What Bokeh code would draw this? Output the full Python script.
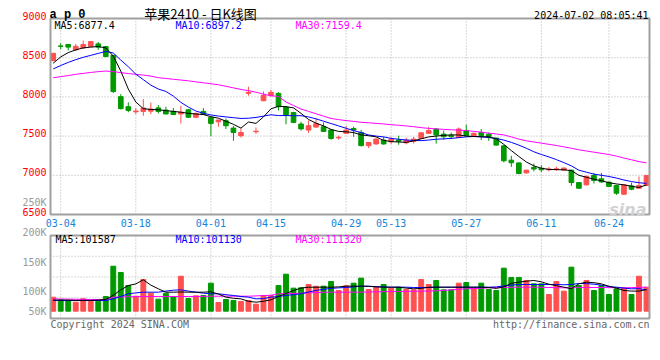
from bokeh.plotting import figure
from bokeh.models import Range1d, ColumnDataSource
from bokeh.core.properties import value
from bokeh.embed import file_html
from bokeh.resources import INLINE

# ---------------- data ----------------
dates = ["03-01", "03-04", "03-05", "03-06", "03-07", "03-08", "03-11", "03-12", "03-13", "03-14",
         "03-15", "03-18", "03-19", "03-20", "03-21", "03-22", "03-25", "03-26", "03-27", "03-28",
         "03-29", "04-01", "04-02", "04-03", "04-08", "04-09", "04-10", "04-11", "04-12", "04-15",
         "04-16", "04-17", "04-18", "04-19", "04-22", "04-23", "04-24", "04-25", "04-26", "04-29",
         "05-06", "05-07", "05-08", "05-09", "05-10", "05-13", "05-14", "05-15", "05-16", "05-17",
         "05-20", "05-21", "05-22", "05-23", "05-24", "05-27", "05-28", "05-29", "05-30", "05-31",
         "06-03", "06-04", "06-05", "06-06", "06-07", "06-11", "06-12", "06-13", "06-14", "06-17",
         "06-18", "06-19", "06-20", "06-21", "06-24", "06-25", "06-26", "06-27", "06-28", "07-01"]

opens = [8463, 8650, 8668, 8600, 8625, 8642, 8676, 8642, 8530, 8003,
         7875, 7810, 7815, 7818, 7860, 7832, 7815, 7782, 7836, 7740,
         7815, 7738, 7683, 7696, 7602, 7505, 8045, 7555, 7951, 8015,
         8045, 7870, 7800, 7654, 7577, 7615, 7619, 7577, 7478, 7535,
         7597, 7546, 7378, 7400, 7449, 7428, 7450, 7415, 7432, 7470,
         7535, 7590, 7525, 7512, 7482, 7570, 7505, 7546, 7525, 7474,
         7376, 7193, 7158, 7031, 7100, 7090, 7070, 7075, 7066, 7066,
         6907, 6878, 6998, 6955, 6912, 6870, 6758, 6865, 6835, 6870]
highs = [8560, 8685, 8672, 8676, 8719, 8712, 8700, 8650, 8535, 8035,
         7930, 7860, 7973, 7930, 7895, 7875, 7858, 7887, 7845, 7800,
         7858, 7745, 7710, 7725, 7630, 7600, 8130, 7610, 8070, 8090,
         8060, 7880, 7810, 7683, 7700, 7730, 7675, 7590, 7505, 7632,
         7620, 7580, 7425, 7470, 7490, 7490, 7505, 7480, 7490, 7545,
         7619, 7600, 7570, 7545, 7610, 7645, 7545, 7590, 7545, 7480,
         7380, 7248, 7165, 7070, 7150, 7130, 7105, 7110, 7100, 7070,
         6912, 7000, 7030, 7030, 6920, 6880, 6880, 6907, 6985, 7000]
lows = [8455, 8608, 8592, 8585, 8612, 8640, 8600, 8505, 8050, 7840,
        7805, 7780, 7760, 7780, 7790, 7780, 7772, 7660, 7730, 7735,
        7770, 7500, 7620, 7590, 7440, 7482, 8015, 7530, 7945, 8010,
        7826, 7650, 7670, 7570, 7540, 7605, 7555, 7455, 7455, 7530,
        7490, 7370, 7347, 7390, 7390, 7400, 7390, 7395, 7405, 7465,
        7530, 7405, 7455, 7462, 7478, 7495, 7495, 7449, 7440, 7380,
        7165, 7107, 7015, 7020, 7050, 7040, 7050, 7055, 7060, 6865,
        6830, 6870, 6895, 6905, 6850, 6750, 6755, 6810, 6830, 6865]
closes = [8556, 8645, 8635, 8646, 8668, 8706, 8635, 8515, 8068, 7850,
          7828, 7820, 7858, 7845, 7815, 7782, 7775, 7806, 7740, 7790,
          7775, 7662, 7704, 7632, 7546, 7546, 8058, 7562, 8020, 8058,
          7875, 7765, 7675, 7592, 7632, 7658, 7560, 7470, 7485, 7577,
          7578, 7378, 7418, 7462, 7400, 7460, 7435, 7449, 7462, 7542,
          7570, 7515, 7492, 7492, 7590, 7505, 7535, 7505, 7495, 7385,
          7185, 7160, 7022, 7066, 7080, 7070, 7080, 7082, 7092, 6908,
          6835, 6985, 6935, 6915, 6858, 6772, 6878, 6823, 6870, 6998]

ma5 = [8430, 8510, 8565, 8600, 8625, 8635, 8642, 8625, 8520, 8330,
       8100, 7935, 7850, 7840, 7835, 7825, 7815, 7805, 7790, 7782,
       7775, 7748, 7728, 7690, 7650, 7602, 7680, 7662, 7745, 7848,
       7880, 7875, 7860, 7790, 7712, 7665, 7630, 7585, 7560, 7555,
       7545, 7515, 7505, 7490, 7445, 7430, 7425, 7420, 7440, 7465,
       7490, 7500, 7510, 7515, 7515, 7500, 7495, 7492, 7490, 7465,
       7395, 7315, 7240, 7170, 7120, 7090, 7075, 7072, 7070, 7060,
       7000, 6975, 6950, 6930, 6905, 6890, 6878, 6860, 6845, 6877]
ma10 = [8357, 8400, 8440, 8475, 8505, 8530, 8555, 8580, 8560, 8470,
        8385, 8290, 8220, 8150, 8100, 8070, 8010, 7930, 7870, 7820,
        7790, 7770, 7755, 7745, 7735, 7725, 7728, 7738, 7755, 7772,
        7762, 7762, 7760, 7760, 7745, 7720, 7690, 7660, 7630, 7600,
        7570, 7545, 7515, 7500, 7490, 7470, 7460, 7450, 7445, 7442,
        7450, 7460, 7465, 7470, 7480, 7490, 7495, 7490, 7482, 7470,
        7449, 7420, 7385, 7345, 7300, 7265, 7235, 7200, 7162, 7120,
        7065, 7040, 7015, 7000, 6985, 6965, 6940, 6920, 6905, 6897]
ma30 = [8245, 8258, 8272, 8288, 8300, 8312, 8322, 8330, 8322, 8310,
        8298, 8288, 8278, 8265, 8245, 8235, 8225, 8215, 8205, 8192,
        8180, 8168, 8155, 8135, 8115, 8095, 8080, 8060, 8035, 8015,
        8005, 7935, 7890, 7845, 7815, 7785, 7755, 7725, 7710, 7698,
        7688, 7676, 7670, 7662, 7655, 7645, 7638, 7630, 7620, 7608,
        7598, 7592, 7586, 7580, 7577, 7570, 7560, 7550, 7538, 7527,
        7515, 7490, 7462, 7440, 7425, 7410, 7395, 7380, 7363, 7345,
        7325, 7310, 7295, 7280, 7265, 7245, 7220, 7198, 7175, 7159]

# volume, in thousands of lots
vol_k = [88.8, 84.4, 83.3, 80.5, 86.1, 81.7, 82.2, 90.0, 140.5, 130.0,
         108.3, 90.5, 118.3, 95.5, 85.5, 95.5, 90.0, 123.8, 86.7, 91.1,
         91.7, 112.2, 80.0, 85.0, 83.3, 81.7, 83.3, 77.2, 91.7, 91.7,
         108.3, 127.2, 103.9, 104.5, 110.0, 107.0, 107.2, 115.0, 100.0, 107.8,
         112.2, 120.6, 101.7, 105.5, 110.0, 103.9, 105.5, 101.7, 101.1, 118.3,
         110.0, 116.7, 101.1, 101.1, 112.2, 113.3, 103.9, 112.2, 101.7, 100.0,
         137.2, 121.7, 121.7, 116.7, 111.1, 111.1, 93.3, 115.0, 98.9, 138.9,
         108.3, 116.7, 100.0, 108.3, 93.3, 102.8, 103.9, 93.3, 123.8, 105.5]
vma5 = [84.0, 84.0, 84.0, 83.5, 83.5, 83.5, 84.0, 85.0, 92.0, 101.0,
        108.3, 111.0, 117.8, 109.0, 102.8, 97.2, 97.2, 97.5, 97.2, 97.2,
        97.2, 97.8, 94.0, 88.9, 87.0, 86.0, 82.0, 80.5, 82.0, 84.4,
        90.0, 95.0, 100.0, 104.0, 105.5, 105.5, 105.5, 105.5, 106.0, 107.2,
        107.2, 107.2, 107.0, 106.0, 105.5, 105.5, 105.5, 104.0, 102.8, 103.5,
        105.5, 105.5, 105.5, 105.5, 105.5, 105.5, 105.5, 105.5, 105.0, 103.5,
        106.0, 112.0, 113.9, 115.5, 116.7, 114.5, 110.5, 108.0, 105.5, 103.0,
        111.1, 113.9, 113.0, 111.1, 107.0, 104.0, 100.0, 99.0, 98.9, 101.6]
vma10 = [83.3, 83.3, 83.3, 83.3, 83.3, 83.3, 83.3, 83.3, 86.0, 90.0,
         94.5, 96.0, 97.2, 97.2, 97.2, 99.0, 100.5, 101.1, 99.0, 97.2,
         95.5, 94.5, 94.5, 93.0, 91.7, 90.0, 88.9, 86.0, 86.5, 88.9,
         90.0, 91.7, 93.0, 94.5, 97.5, 100.0, 102.0, 103.5, 104.4, 105.0,
         106.0, 107.2, 107.0, 106.5, 106.0, 105.5, 105.5, 105.5, 105.0, 105.0,
         105.0, 105.5, 105.5, 105.5, 105.5, 105.5, 105.5, 105.5, 105.5, 106.0,
         107.5, 109.0, 110.0, 110.0, 110.0, 110.0, 110.0, 110.0, 109.5, 110.0,
         111.7, 111.5, 110.5, 109.0, 106.5, 105.5, 104.0, 102.8, 103.0, 101.1]
vma30 = [86.0, 85.8, 85.6, 85.4, 85.2, 85.0, 85.0, 85.0, 88.9, 89.2,
         89.5, 89.8, 90.0, 90.0, 90.0, 90.0, 90.0, 90.0, 90.0, 90.0,
         90.2, 90.5, 90.5, 90.5, 90.5, 90.5, 90.5, 91.0, 91.5, 92.0,
         94.5, 94.8, 95.0, 95.5, 96.0, 96.5, 97.0, 97.2, 97.2, 97.2,
         97.2, 97.2, 97.5, 97.8, 98.0, 98.3, 98.3, 98.5, 98.7, 99.0,
         99.0, 99.5, 100.2, 101.0, 102.0, 102.8, 103.3, 103.8, 104.4, 105.0,
         105.2, 105.4, 105.5, 105.5, 105.5, 105.3, 105.0, 104.7, 104.4, 104.6,
         104.8, 105.0, 105.0, 105.0, 104.8, 104.6, 104.5, 104.8, 105.2, 105.5]

tick_labels = ["03-04", "03-18", "04-01", "04-15", "04-29", "05-13", "05-27", "06-11", "06-24"]
price_ticks = [6500, 7000, 7500, 8000, 8500, 9000]
price_grid = [7000, 7500, 8000, 8500]
vol_ticks = [250, 200, 150, 100, 50]
price_legend = ["MA5:6877.4", "MA10:6897.2", "MA30:7159.4"]
vol_legend = ["MA5:101587", "MA10:101130", "MA30:111320"]
code_text = "a p 0"
title_text = "苹果2410 - 日K线图"
stamp_text = "2024-07-02 08:05:41"
copyright_text = "Copyright 2024 SINA.COM"
url_text = "http://finance.sina.com.cn"

# ---------------- layout / styling constants ----------------
W, H = 652, 335
PANE_L, PANE_R = 50, 649          # pixel edges of both panes
PRICE_T, PRICE_B = 18, 214
VOL_T, VOL_B = 235, 318

LX, RX = -0.36, 79.4              # x data at the pane edges
P0, P1 = 6500, 9000               # price pane value range
VLO, VHI = 53.3, 191.7            # volume pane value range (thousands)
VBASE = 65.5                      # volume bars start here

RED = "#FF5050"
GREEN = "#009900"
GRID = "#B0B0B0"
BORDER = "#A0A0A0"
MONO = "DejaVu Sans Mono"
LEG_COLORS = ["#000000", "#0000FF", "#FF00FF"]

kx = (PANE_R - PANE_L) / (RX - LX)
kp = (PRICE_B - PRICE_T) / (P1 - P0)
kv = (VOL_B - VOL_T) / (VHI - VLO)
x_range = Range1d(LX - PANE_L / kx, RX + (W - PANE_R) / kx)
y_range = Range1d(P0 - (H - PRICE_B) / kp, P1 + PRICE_T / kp)
v_range = Range1d(VLO - (H - VOL_B) / kv, VHI + VOL_T / kv)

idx = list(range(len(dates)))
tick_idx = [dates.index(t) for t in tick_labels]
colors = [RED if c >= o else GREEN for o, c in zip(opens, closes)]
src = ColumnDataSource(dict(
    x=idx, h=highs, l=lows,
    top=[max(o, c) for o, c in zip(opens, closes)],
    bot=[min(o, c) for o, c in zip(opens, closes)],
    color=colors, vol=vol_k,
))

p = figure(width=W, height=H, x_range=x_range, y_range=y_range,
           x_axis_location=None, y_axis_location=None, toolbar_location=None,
           output_backend="svg",
           min_border_left=0, min_border_right=0, min_border_top=0, min_border_bottom=0)
p.extra_y_ranges = {"vol": v_range}
p.outline_line_color = None
p.grid.visible = False
p.background_fill_color = "white"
p.border_fill_color = "white"

# ---------------- grid lines ----------------
n = len(tick_idx)
p.segment(x0=tick_idx, x1=tick_idx, y0=[P0] * n, y1=[P1] * n,
          line_color=GRID, line_dash="1 2", line_width=1)
p.segment(x0=tick_idx, x1=tick_idx, y0=[VLO] * n, y1=[VHI] * n,
          line_color=GRID, line_dash="1 2", line_width=1, y_range_name="vol")
m = len(price_grid)
p.segment(x0=[LX] * m, x1=[RX] * m, y0=price_grid, y1=price_grid,
          line_color=GRID, line_dash="1 2", line_width=1)
vq = [VLO + (VHI - VLO) * k / 4 for k in (1, 2, 3)]
p.segment(x0=[LX] * 3, x1=[RX] * 3, y0=vq, y1=vq,
          line_color=GRID, line_dash="1 2", line_width=1, y_range_name="vol")

# ---------------- candles + price MAs ----------------
p.segment(x0="x", y0="l", x1="x", y1="h", line_color="color", line_width=1, source=src)
p.vbar(x="x", width=0.62, top="top", bottom="bot", fill_color="color", line_color="color",
       line_width=1, source=src)
p.line(idx, ma30, line_color="#FF00FF", line_width=1)
p.line(idx, ma10, line_color="#0000FF", line_width=1)
p.line(idx, ma5, line_color="#000000", line_width=1)

# ---------------- volume bars + volume MAs ----------------
p.vbar(x="x", width=0.65, top="vol", bottom=VBASE, fill_color="color", line_color="color",
       line_width=1, source=src, y_range_name="vol")
p.line(idx, vma30, line_color="#FF00FF", line_width=1, y_range_name="vol")
p.line(idx, vma10, line_color="#0000FF", line_width=1, y_range_name="vol")
p.line(idx, vma5, line_color="#000000", line_width=1, y_range_name="vol")

# ---------------- pane borders ----------------
p.quad(left=[LX], right=[RX], bottom=[P0], top=[P1], fill_color=None,
       line_color=BORDER, line_width=2)
p.quad(left=[LX], right=[RX], bottom=[VLO], top=[VHI], fill_color=None,
       line_color=BORDER, line_width=2, y_range_name="vol")


# ---------------- texts ----------------
def txt(x, y, s, xoff=0, yoff=0, color="#000000", size="10px", font=MONO,
        align="left", baseline="middle", style="normal", rng="default"):
    xs = x if isinstance(x, list) else [x]
    ys = y if isinstance(y, list) else [y]
    ss = s if isinstance(s, list) else [s]
    p.text(x=xs, y=ys, text=ss, x_offset=xoff, y_offset=yoff, text_color=color,
           text_font=value(font), text_font_size=value(size), text_align=align,
           text_baseline=baseline, text_font_style=style, y_range_name=rng)


# price axis labels (left)
txt([LX] * len(price_ticks), price_ticks, [str(t) for t in price_ticks],
    xoff=-4, yoff=-3, color="#FF0000", align="right")
# volume axis labels (left); the lowest one is held inside the pane
for t in vol_ticks:
    yo = 1.5 if t > VLO else -9
    txt(LX, t, f"{t}K", xoff=-4, yoff=yo, color="#999999", align="right", rng="vol")
# date labels between the panes
txt(tick_idx, [P0] * n, tick_labels, yoff=8.8, color="#1685D8", align="center")

# legends
for s, col, off in zip(price_legend, LEG_COLORS, [4, 125, 245]):
    txt(LX, P1, s, xoff=off, yoff=6.5, color=col)
for s, col, off in zip(vol_legend, LEG_COLORS, [5, 125, 245]):
    txt(LX, VHI, s, xoff=off, yoff=3.8, color=col, rng="vol")

# header
txt(LX, P1, code_text, xoff=-1, yoff=-4, size="12px", font="Liberation Mono",
    baseline="alphabetic", style="bold")
txt(LX, P1, title_text, xoff=150, yoff=-5, size="13px", font="Noto Sans CJK SC",
    align="center", baseline="alphabetic")
txt(RX, P1, stamp_text, xoff=-1, yoff=-3, align="right", baseline="alphabetic")

# footer
txt(LX, VLO, copyright_text, yoff=5.5, color="#666666", rng="vol")
txt(RX, VLO, url_text, yoff=5.5, color="#666666", align="right", rng="vol")

# watermark
txt(RX, P0, "sina", xoff=-3, yoff=-5, color="#D2D2D2", size="16px", font="DejaVu Sans",
    align="right", baseline="alphabetic", style="bold italic")

open("out.html", "w").write(file_html(p, INLINE))
